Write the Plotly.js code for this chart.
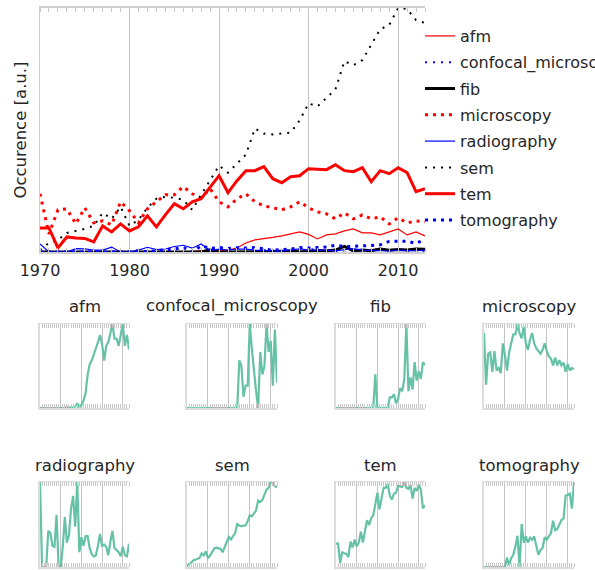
<!DOCTYPE html>
<html><head><meta charset="utf-8">
<script src="https://cdn.plot.ly/plotly-3.0.1.min.js"></script>
<style>html,body{margin:0;padding:0;background:#fff}#chart{width:595px;height:570px}</style>
</head><body><div id="chart"></div>
<script>
const years = [1970,1971,1972,1973,1974,1975,1976,1977,1978,1979,
  1980,1981,1982,1983,1984,1985,1986,1987,1988,1989,
  1990,1991,1992,1993,1994,1995,1996,1997,1998,1999,
  2000,2001,2002,2003,2004,2005,2006,2007,2008,2009,
  2010,2011,2012,2013];
const tickYears = [1970,1980,1990,2000,2010];
const seriesNames = ['afm','confocal_microscopy','fib','microscopy','radiography','sem','tem','tomography'];

const afm = [0,0,0,0,0,0,0,0,0,0, 0,0,0,0.3,0,0.2,0,0.3,1.3,0.2, 0.8,2,4,9,12,13,14.5,16,18,20, 17.5,13,17,18,21,23,19,19,17,20, 23,17,20,16];
const confocal_microscopy = [0,0,0,0,0,0,0,0,0,0, 0,0,0,0,0,0,0,0,0,0, 0,0,0,0,0,1.7,1.5,0.4,0.8,0.8, 3.0,2.1,1.3,0.6,0,2.0,1.2,1.5,3.0,2.0, 2.4,0.8,2.8,0.9];
const fib = [0,0,0,0,0,0,0,0,0,0, 0,0,0,0,0,0,0,0,0,2.2, 0,0,0,0,0,0,0.7,0.7,0.9,0.3, 0.6,1.3,1.1,1.9,5.5,1.1,2.0,1.2,3.0,1.8, 2.4,1.9,3.0,2.8];
const microscopy = [58,18,42,43,28,44,29,31,27,50, 41,29,43,50,57,57,65,58,54,63, 50,45,53,58,50,46,44,42,45,50, 44,40,38,33,39,33,37,33,35,28, 34,29,31,30];
const radiography = [8,0,0,0,3.4,3.2,2.0,1.9,4.9,0, 0,1.9,4.7,2.3,3.0,5.5,6.7,3.8,8.0,1.4, 2.8,2.0,2.9,2.9,1.8,1.2,1.0,1.1,2.0,3.1, 2.0,2.1,1.9,1.1,2.4,3.4,1.8,1.6,1.4,1.0, 1.9,1.1,1.0,2.2];
const sem = [2,9,12,19,21,23,26,39,33,45, 26,32,44,53,55,54,52,42,57,72, 86,79,88,97,123,118,117,118,119,131, 148,145,153,162,190,186,191,207,222,226, 243,242,231,228];
const tem = [24,24,4,15,14,13.5,10,26,20,28, 21,25,36,25,37,48,43,50,53,64, 76,59,71,81,81,85,73,69,75,76, 83,82.5,82,87,81,80,84,70,81,78, 84,79,60,63];
const tomography = [0,0,0,0,0,0,0,0,0,0, 0,1.4,0.3,1.3,1.8,3.0,4.6,0,6.3,3.6, 4.5,3.6,4.3,4.0,4.5,3.1,1.8,2.5,2.8,4.4, 4.0,4.5,5.0,6.8,5.4,5.6,6.3,6.9,7.1,10.5, 10.6,10.8,8.6,12.5];

const seriesValues = {afm, confocal_microscopy, fib, microscopy, radiography, sem, tem, tomography};

const styles = {
  afm:                 {color:'#ff0000', width:1.2, dash:'solid'},
  confocal_microscopy: {color:'#0000ff', width:2,   dash:'2px,6px'},
  fib:                 {color:'#000000', width:3,   dash:'solid'},
  microscopy:          {color:'#ff0000', width:3,   dash:'3px,5px'},
  radiography:         {color:'#0000ff', width:1.2, dash:'solid'},
  sem:                 {color:'#000000', width:2,   dash:'2px,6px'},
  tem:                 {color:'#ff0000', width:3,   dash:'solid'},
  tomography:          {color:'#0000ff', width:3,   dash:'3px,5px'}
};

const W = 595, H = 570;
const px = v => v / W;
const py = v => 1 - v / H;
const TXT = '#262626';
const FONT = 'DejaVu Sans';

const traces = [];
seriesNames.forEach(n => {
  traces.push({x: years, y: seriesValues[n], name: n, legendgroup: n, type: 'scatter', mode: 'lines',
    line: {color: styles[n].color, width: styles[n].width, dash: styles[n].dash},
    xaxis: 'x', yaxis: 'y', hoverinfo: 'skip'});
});

const layout = {
  width: W, height: H,
  margin: {l: 0, r: 0, t: 0, b: 0, autoexpand: false},
  paper_bgcolor: '#ffffff', plot_bgcolor: '#ffffff',
  font: {family: FONT, color: TXT},
  showlegend: true,
  legend: {x: px(420), xanchor: 'left', y: py(19), yanchor: 'top',
    font: {size: 16, color: TXT, family: FONT}, bgcolor: 'rgba(0,0,0,0)', borderwidth: 0,
    tracegroupgap: 2.5},
  xaxis: {domain: [px(40), px(425)], range: [1970, 2013], anchor: 'y',
    tickmode: 'array', tickvals: tickYears, ticktext: tickYears.map(String),
    ticks: '', showgrid: true, gridcolor: '#c4c4c4', gridwidth: 1, zeroline: false,
    showline: true, linecolor: '#d0d0d0', linewidth: 2, mirror: 'ticks',
    tickfont: {size: 16, color: TXT, family: FONT}, ticklabelstandoff: 3,
    minor: {tickmode: 'linear', tick0: 1970, dtick: 1, ticks: 'inside', ticklen: 4, tickcolor: '#c8c8c8', tickwidth: 1, showgrid: false}
  },
  yaxis: {domain: [py(252), py(8)], range: [0, Math.max(...sem)], anchor: 'x',
    showticklabels: false, ticks: '', showgrid: false, zeroline: false,
    showline: true, linecolor: '#d0d0d0', linewidth: 1.5,
    title: {text: 'Occurence [a.u.]', font: {size: 16.5, color: TXT, family: FONT}, standoff: 7}
  },
  annotations: []
};

const colsX = [[40,129],[187,277],[336,425],[484,574]];
const rowsY = [[324,408],[482,567]];
const titleY = [306, 465];

seriesNames.forEach((n, i) => {
  const k = i + 2;
  const c = colsX[i % 4], r = rowsY[Math.floor(i / 4)];
  const xa = 'x' + k, ya = 'y' + k;
  traces.push({x: years, y: seriesValues[n], type: 'scatter', mode: 'lines', showlegend: false,
    line: {color: '#66c2a5', width: 2.2}, xaxis: xa, yaxis: ya, hoverinfo: 'skip'});
  layout['xaxis' + k] = {domain: [px(c[0]), px(c[1])], range: [1970, 2013], anchor: ya,
    tickmode: 'linear', tick0: 1970, dtick: 10, ticks: '', showticklabels: false,
    showgrid: true, gridcolor: '#c4c4c4', gridwidth: 1, zeroline: false,
    showline: true, linecolor: '#dcdcdc', linewidth: 1.5, mirror: 'ticks',
    minor: {tickmode: 'linear', tick0: 1970, dtick: 1, ticks: 'inside', ticklen: 4, tickcolor: '#c8c8c8', tickwidth: 1, showgrid: false}
  };
  layout['yaxis' + k] = {domain: [py(r[1]), py(r[0])], range: [0, Math.max(...seriesValues[n])], anchor: xa,
    showticklabels: false, ticks: '', showgrid: false, zeroline: false,
    showline: true, linecolor: '#dcdcdc', linewidth: 2};
  layout.annotations.push({text: n, xref: 'paper', yref: 'paper',
    x: px((c[0] + c[1]) / 2), y: py(titleY[Math.floor(i / 4)]), xanchor: 'center', yanchor: 'middle',
    showarrow: false, font: {size: 16.5, color: TXT, family: FONT}});
});

Plotly.newPlot('chart', traces, layout, {staticPlot: true, displayModeBar: false});
</script>
</body></html>
